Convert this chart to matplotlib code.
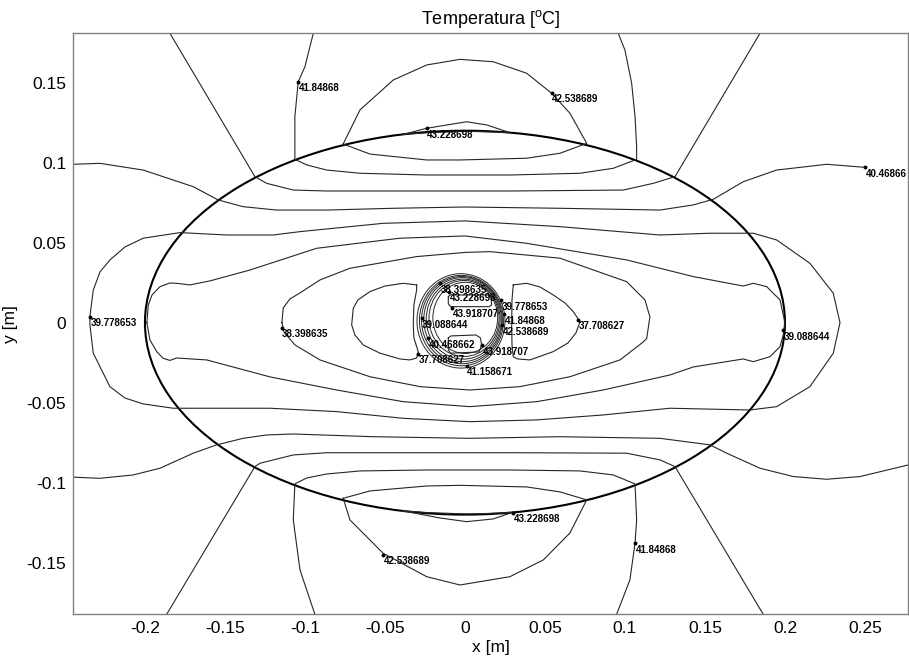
import matplotlib
matplotlib.use("Agg")
import matplotlib.pyplot as plt
from matplotlib.patches import Ellipse
from matplotlib.ticker import FuncFormatter

plt.rcParams["font.family"] = ["Liberation Sans", "DejaVu Sans"]
plt.rcParams["mathtext.fontset"] = "custom"
plt.rcParams["mathtext.rm"] = "Liberation Sans"

# elliptical body (semi-axes in m) and plot window
ELLIPSE_A = 0.2
ELLIPSE_B = 0.12
X_LIM = (-0.2448, 0.2769)
Y_LIM = (-0.1823, 0.1809)
X_TICKS = [-0.2, -0.15, -0.1, -0.05, 0.0, 0.05, 0.1, 0.15, 0.2, 0.25]
Y_TICKS = [-0.15, -0.1, -0.05, 0.0, 0.05, 0.1, 0.15]

# isotherms (x, y in m)
c1_top_x = [-0.1844, -0.1313, -0.1239, -0.1073, -0.0864, 0.0, 0.0281, 0.0989, 0.1177, 0.1313, 0.1844]
c1_top_y = [0.1809, 0.0913, 0.0871, 0.0829, 0.0823, 0.0823, 0.0823, 0.0829, 0.0871, 0.0913, 0.1809]
c1_bot_x = [-0.1864, -0.1313, -0.1281, -0.1073, -0.0864, 0.0, 0.0280, 0.1010, 0.1219, 0.1313, 0.1864]
c1_bot_y = [-0.1823, -0.0900, -0.0879, -0.0827, -0.0813, -0.0813, -0.0813, -0.0816, -0.0858, -0.0900, -0.1823]

c2_top_x = [-0.0948, -0.1000, -0.1042, -0.1063, -0.1063, -0.0989, -0.0864, -0.0656, -0.0239, 0.0281,
            0.0719, 0.0927, 0.1073, 0.1073, 0.1063, 0.1042, 0.1000, 0.0958]
c2_top_y = [0.1809, 0.1600, 0.1506, 0.1288, 0.1021, 0.0986, 0.0954, 0.0934, 0.0923, 0.0923,
            0.0934, 0.0965, 0.1021, 0.1100, 0.1288, 0.1496, 0.1704, 0.1809]
c2_bot_x = [-0.0938, -0.1031, -0.1073, -0.1063, -0.0989, -0.0864, -0.0656, -0.0239, 0.0281, 0.0719,
            0.0927, 0.1063, 0.1073, 0.1063, 0.1031, 0.0948]
c2_bot_y = [-0.1823, -0.1546, -0.1233, -0.1008, -0.0971, -0.0946, -0.0927, -0.0921, -0.0921, -0.0927,
            -0.0952, -0.1008, -0.1233, -0.1379, -0.1608, -0.1823]

c3_top_x = [-0.0761, -0.0656, -0.0448, -0.0239, -0.0031, 0.0177, 0.0386, 0.0542, 0.0656, 0.0761,
            0.0594, 0.0386, -0.0031, -0.0239, -0.0594, -0.0761]
c3_top_y = [0.1117, 0.1330, 0.1517, 0.1611, 0.1646, 0.1631, 0.1559, 0.1434, 0.1309, 0.1121,
            0.1059, 0.1028, 0.1017, 0.1017, 0.1054, 0.1117]
c3_bot_x = [-0.0761, -0.0719, -0.0511, -0.0239, -0.0031, 0.0281, 0.0490, 0.0656, 0.0761,
            0.0594, 0.0386, -0.0031, -0.0239, -0.0594, -0.0761]
c3_bot_y = [-0.1098, -0.1233, -0.1442, -0.1588, -0.1640, -0.1588, -0.1483, -0.1315, -0.1108,
            -0.1058, -0.1027, -0.1017, -0.1021, -0.1052, -0.1098]

lens_top_x = [-0.0386, -0.0240, 0.0010, 0.0136, 0.0281, 0.0136, 0.0010, -0.0240, -0.0386]
lens_top_y = [0.1177, 0.1215, 0.1256, 0.1236, 0.1188, 0.1193, 0.1196, 0.1187, 0.1177]
lens_bot_x = [-0.0386, -0.0156, 0.0010, 0.0177, 0.0294, 0.0136, 0.0010, -0.0240, -0.0386]
lens_bot_y = [-0.1177, -0.1221, -0.1244, -0.1227, -0.1187, -0.1193, -0.1196, -0.1187, -0.1177]

c5_top_x = [-0.2448, -0.2281, -0.2011, -0.1698, -0.1542, -0.1386, -0.1177, -0.0864, -0.0448, 0.0,
            0.0594, 0.1219, 0.1427, 0.1552, 0.1739, 0.1948, 0.2261, 0.2500]
c5_top_y = [0.0990, 0.0996, 0.0954, 0.0850, 0.0767, 0.0725, 0.0704, 0.0704, 0.0715, 0.0723,
            0.0715, 0.0704, 0.0736, 0.0771, 0.0881, 0.0954, 0.0990, 0.0971]
c5_bot_x = [-0.2448, -0.2281, -0.2073, -0.1906, -0.1698, -0.1552, -0.1386, -0.1239, -0.1073, -0.0573,
            0.0031, 0.0594, 0.1219, 0.1531, 0.1636, 0.1844, 0.2052, 0.2261, 0.2469, 0.2769]
c5_bot_y = [-0.0966, -0.0973, -0.0952, -0.0910, -0.0816, -0.0764, -0.0723, -0.0702, -0.0696, -0.0713,
            -0.0723, -0.0713, -0.0723, -0.0764, -0.0816, -0.0910, -0.0962, -0.0979, -0.0962, -0.0890]

c6_x = [-0.2344, -0.2323, -0.2281, -0.2219, -0.2125, -0.2011, -0.1781, -0.1489, -0.1198, -0.1031,
        -0.0511, 0.0, 0.0594, 0.1219, 0.1531, 0.1802, 0.1948, 0.2156, 0.2302, 0.2344,
        0.2302, 0.2156, 0.1948, 0.1781, 0.1281, 0.0864, 0.0448, 0.0031, -0.0386, -0.0802,
        -0.1219, -0.1614, -0.1823, -0.2011, -0.2125, -0.2219, -0.2323, -0.2344, -0.2344]
c6_y = [0.0038, 0.0204, 0.0317, 0.0392, 0.0473, 0.0528, 0.0563, 0.0548, 0.0548, 0.0569,
        0.0621, 0.0636, 0.0600, 0.0548, 0.0559, 0.0559, 0.0517, 0.0371, 0.0184, 0.0,
        -0.0191, -0.0400, -0.0525, -0.0546, -0.0535, -0.0577, -0.0608, -0.0619, -0.0598, -0.0556,
        -0.0535, -0.0535, -0.0535, -0.0508, -0.0471, -0.0400, -0.0191, -0.0014, 0.0038]

c7_x = [-0.1988, -0.1979, -0.1956, -0.1906, -0.1844, -0.1802, -0.1719, -0.1594, -0.1344, -0.0927,
        -0.0406, 0.0, 0.0386, 0.1011, 0.1427, 0.1739, 0.1802, 0.1886, 0.1969, 0.2000,
        0.1989, 0.1969, 0.1906, 0.1802, 0.1739, 0.1427, 0.1281, 0.0864, 0.0448, 0.0031,
        -0.0386, -0.0802, -0.1219, -0.1614, -0.1802, -0.1844, -0.1886, -0.1925, -0.1969, -0.1988]
c7_y = [0.0, 0.0111, 0.0173, 0.0225, 0.0248, 0.0246, 0.0236, 0.0261, 0.0329, 0.0465,
        0.0528, 0.0542, 0.0496, 0.0392, 0.0288, 0.0229, 0.0246, 0.0225, 0.0142, 0.0,
        -0.0077, -0.0150, -0.0213, -0.0244, -0.0227, -0.0277, -0.0327, -0.0421, -0.0494, -0.0525,
        -0.0494, -0.0421, -0.0339, -0.0233, -0.0221, -0.0236, -0.0223, -0.0183, -0.0108, 0.0]

c8_x = [-0.1144, -0.1136, -0.1094, -0.1031, -0.0906, -0.0719, -0.0302, 0.0, 0.0156, 0.0594,
        0.1011, 0.1125, 0.1156, 0.1136, 0.1114, 0.0969, 0.0656, 0.0344, 0.0031, -0.0281,
        -0.0594, -0.0906, -0.1063, -0.1131, -0.1144]
c8_y = [0.0, 0.0092, 0.0148, 0.0186, 0.0267, 0.0340, 0.0413, 0.0439, 0.0444, 0.0403,
        0.0256, 0.0142, 0.0036, -0.0098, -0.0121, -0.0233, -0.0338, -0.0400, -0.0421, -0.0400,
        -0.0338, -0.0233, -0.0139, -0.0058, 0.0]

loop_left_x = [-0.0302, -0.0386, -0.0500, -0.0594, -0.0669, -0.0698, -0.0708, -0.0688, -0.0636, -0.0531,
               -0.0406, -0.0344, -0.0302, -0.0292, -0.0319, -0.0323, -0.0319, -0.0302, -0.0302]
loop_left_y = [0.0236, 0.0246, 0.0229, 0.0194, 0.0142, 0.0090, -0.0014, -0.0077, -0.0139, -0.0191,
               -0.0227, -0.0233, -0.0221, -0.0181, -0.0096, -0.0014, 0.0111, 0.0204, 0.0236]
loop_right_x = [0.0302, 0.0386, 0.0469, 0.0552, 0.0625, 0.0677, 0.0719, 0.0694, 0.0644, 0.0552,
                0.0406, 0.0331, 0.0302, 0.0294, 0.0292, 0.0294, 0.0302]
loop_right_y = [0.0236, 0.0246, 0.0223, 0.0173, 0.0123, 0.0069, 0.0006, -0.0064, -0.0127, -0.0181,
                -0.0233, -0.0227, -0.0214, -0.0139, -0.0014, 0.0142, 0.0236]

inner_top_x = [-0.0104, -0.0094, 0.0144, 0.0163, 0.0167, 0.0150, -0.0088, -0.0104, -0.0104]
inner_top_y = [0.0161, 0.0173, 0.0173, 0.0161, 0.0111, 0.0100, 0.0100, 0.0117, 0.0161]
inner_bot_x = [-0.0104, -0.0088, 0.0069, 0.0097, 0.0104, 0.0088, -0.0088, -0.0104, -0.0104]
inner_bot_y = [-0.0096, -0.0083, -0.0077, -0.0096, -0.0139, -0.0183, -0.0191, -0.0171, -0.0096]

# tight rings around the heat source (centre, full width, full height in m)
ring_cx = [-0.0025, -0.0022, -0.0019, -0.0015, -0.0011, -0.0006, 0.0002]
ring_cy = [0.0011, 0.0013, 0.0016, 0.0019, 0.0022, 0.0026, 0.0030]
ring_w = [0.0550, 0.0525, 0.0505, 0.0485, 0.0462, 0.0438, 0.0405]
ring_h = [0.0590, 0.0565, 0.0545, 0.0525, 0.0500, 0.0475, 0.0445]

# contour labels (marker position in m)
label_text = ["41.84868", "42.538689", "43.228698", "40.46866", "39.778653", "38.398635",
              "37.708627", "39.088644", "43.228698", "41.84868", "42.538689",
              "38.398635", "43.228698", "43.918707", "39.088644", "40.468662", "37.708627",
              "41.158671", "39.778653", "41.84868", "42.538689", "43.918707"]
label_x = [-0.1042, 0.0542, -0.0239, 0.2500, -0.2344, -0.1146, 0.0709, 0.1989, 0.0300, 0.1063, -0.0511,
           -0.0156, -0.0100, -0.0081, -0.0271, -0.0231, -0.0294, 0.0011, 0.0225, 0.0244, 0.0231, 0.0106]
label_y = [0.1506, 0.1436, 0.1215, 0.0971, 0.0038, -0.0033, 0.0017, -0.0046, -0.1187, -0.1379, -0.1452,
           0.0245, 0.0193, 0.0093, 0.0026, -0.0099, -0.0193, -0.0269, 0.0139, 0.0051, -0.0016, -0.0141]

LINE_C = "#262626"
LABEL_FONT = ["Liberation Sans Narrow", "Liberation Sans", "DejaVu Sans"]


def main():
    fig = plt.figure(figsize=(9.09, 6.63), dpi=100)
    ax = fig.add_axes([0.0806, 0.0735, 0.9183, 0.8763])

    lines = [
        (c1_top_x, c1_top_y), (c1_bot_x, c1_bot_y),
        (c2_top_x, c2_top_y), (c2_bot_x, c2_bot_y),
        (c3_top_x, c3_top_y), (c3_bot_x, c3_bot_y),
        (lens_top_x, lens_top_y), (lens_bot_x, lens_bot_y),
        (c5_top_x, c5_top_y), (c5_bot_x, c5_bot_y),
        (c6_x, c6_y), (c7_x, c7_y), (c8_x, c8_y),
        (loop_left_x, loop_left_y), (loop_right_x, loop_right_y),
        (inner_top_x, inner_top_y), (inner_bot_x, inner_bot_y),
    ]
    for x, y in lines:
        ax.plot(x, y, color=LINE_C, lw=0.8)

    for cx, cy, w, h in zip(ring_cx, ring_cy, ring_w, ring_h):
        ax.add_patch(Ellipse((cx, cy), w, h, fill=False, ec=LINE_C, lw=0.7))

    ax.add_patch(Ellipse((0, 0), 2 * ELLIPSE_A, 2 * ELLIPSE_B, fill=False,
                         ec="black", lw=1.5))

    for text, x, y in zip(label_text, label_x, label_y):
        ax.plot(x, y, "o", ms=1.8, color="black")
        ax.annotate(text, (x, y), xytext=(0.5, -6.5), textcoords="offset pixels",
                    ha="left", va="center", fontsize=7, fontweight="bold",
                    family=LABEL_FONT, clip_on=True)

    ax.set_xlim(*X_LIM)
    ax.set_ylim(*Y_LIM)
    ax.set_xticks(X_TICKS)
    ax.set_yticks(Y_TICKS)
    fmt = FuncFormatter(lambda v, _: f"{round(v, 4):g}")
    ax.xaxis.set_major_formatter(fmt)
    ax.yaxis.set_major_formatter(fmt)
    ax.tick_params(length=0, labelsize=12.5, pad=5)
    for sp in ax.spines.values():
        sp.set_color("#808080")
        sp.set_linewidth(1.0)

    ax.set_title(r"Temperatura [$^{\mathrm{o}}$C]", fontsize=13, pad=7)
    ax.set_xlabel("x [m]", fontsize=12.5, labelpad=3)
    ax.set_ylabel("y [m]", fontsize=12.5, labelpad=6)

    fig.savefig("out.png", dpi=100)


if __name__ == "__main__":
    main()
